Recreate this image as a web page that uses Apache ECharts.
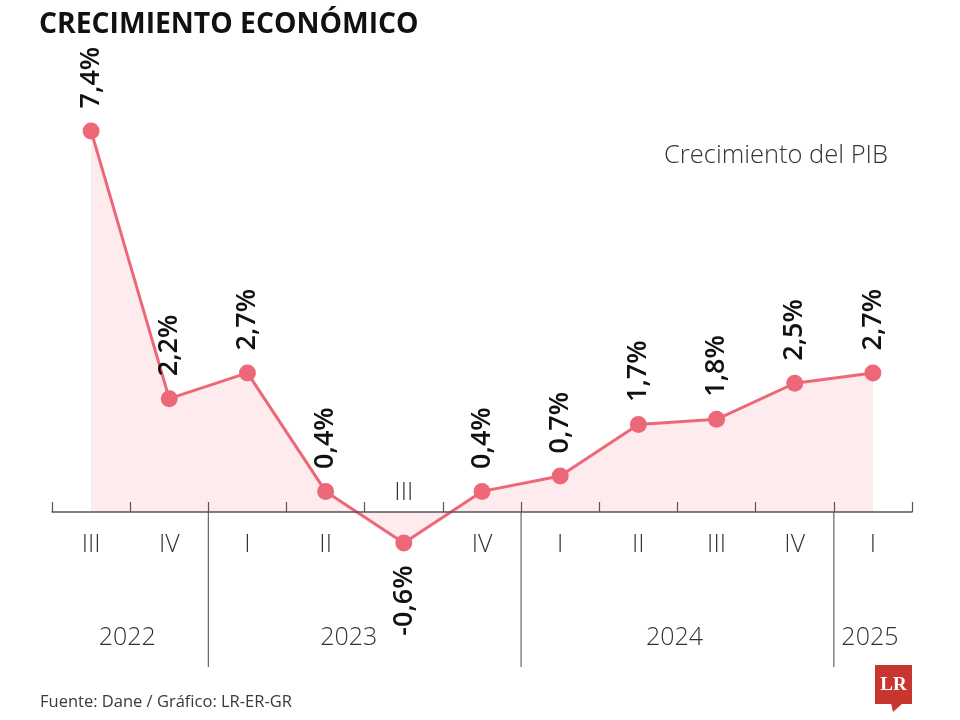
<!DOCTYPE html>
<html>
<head>
<meta charset="utf-8">
<script src="https://cdn.jsdelivr.net/npm/echarts@6/dist/echarts.min.js"></script>
<style>
html,body{margin:0;padding:0;background:#fff;}
#chart{width:960px;height:720px;}
</style>
</head>
<body>
<div id="chart"></div>
<script>
// ---- data ----
var quarters = ['III','IV','I','II','III','IV','I','II','III','IV','I'];
var growth = [7.4, 2.2, 2.7, 0.4, -0.6, 0.4, 0.7, 1.7, 1.8, 2.5, 2.7];
var years = ['2022','2023','2024','2025'];
var quartersPerYear = [2, 4, 4, 1];

// ---- derived ----
var yearData = [];
var start = 0;
for (var k = 0; k < years.length; k++) {
  yearData.push([start, quartersPerYear[k], k]);
  start += quartersPerYear[k];
}
var fontMain = "'Open Sans', 'Noto Sans', sans-serif";
var pink = '#ec6878';

function fmt(v) { return String(v).replace('.', ',') + '%'; }

var lineData = growth.map(function (v) {
  var neg = v < 0;
  return {
    value: v,
    label: {
      position: neg ? 'bottom' : 'top',
      align: neg ? 'right' : 'left',
      verticalAlign: 'middle'
    }
  };
});

var chart = echarts.init(document.getElementById('chart'), null, {renderer: 'canvas'});
chart.setOption({
  animation: false,
  backgroundColor: '#ffffff',
  grid: {left: 52, right: 48, top: 100, bottom: 156.5},
  xAxis: {
    type: 'category',
    data: quarters,
    boundaryGap: true,
    z: 10,
    axisLine: {onZero: true, lineStyle: {color: '#555', width: 1.5}},
    axisTick: {show: true, inside: true, length: 10, lineStyle: {color: '#555', width: 1.2}},
    axisLabel: {show: false},
    splitLine: {show: false}
  },
  yAxis: {
    type: 'value', min: -1, max: 8, show: false,
    splitLine: {show: false}
  },
  graphic: [
    {type: 'text', left: 39, top: 11, style: {text: 'CRECIMIENTO ECONÓMICO', font: "bold 28.3px 'Open Sans', sans-serif", fill: '#111'}},
    {type: 'text', right: 72, top: 143, style: {text: 'Crecimiento del PIB', font: "300 25.5px 'Open Sans', sans-serif", fill: '#333'}},
    {type: 'text', left: 40, top: 694, style: {text: 'Fuente: Dane / Gráfico: LR-ER-GR', font: "16.5px 'Open Sans', sans-serif", fill: '#3a3a3a'}},
    {type: 'group', children: [
      {type: 'rect', shape: {x: 875, y: 665, width: 37, height: 39}, style: {fill: '#c9362f'}},
      {type: 'polygon', shape: {points: [[891, 703], [903, 703], [893, 712]]}, style: {fill: '#c9362f'}},
      {type: 'text', x: 893.5, y: 685, style: {text: 'LR', font: "bold 19px 'Liberation Serif', 'DejaVu Serif', serif", fill: '#fff', align: 'center', verticalAlign: 'middle'}}
    ]}
  ],
  series: [
    {
      type: 'line',
      data: lineData,
      symbol: 'circle',
      symbolSize: 17,
      itemStyle: {color: pink},
      lineStyle: {color: pink, width: 3},
      areaStyle: {color: '#fdebed', opacity: 1},
      label: {
        show: true,
        rotate: 90,
        distance: 14,
        formatter: function (p) { return fmt(p.value); },
        fontFamily: fontMain,
        fontWeight: 600,
        fontSize: 27,
        color: '#111'
      },
      z: 3
    },
    {
      type: 'custom',
      clip: false,
      silent: true,
      data: growth.map(function (v, i) { return [i, v]; }),
      renderItem: function (params, api) {
        var i = api.value(0);
        var v = api.value(1);
        var p = api.coord([i, 0]);
        var y = v < 0 ? p[1] - 19 : p[1] + 33;
        return {
          type: 'text',
          x: p[0], y: y,
          style: {text: quarters[i], font: "300 25px 'Open Sans', sans-serif", fill: '#333', align: 'center', verticalAlign: 'middle'}
        };
      },
      z: 2
    },
    {
      type: 'custom',
      clip: false,
      silent: true,
      data: yearData,
      renderItem: function (params, api) {
        var s = api.value(0);
        var n = api.value(1);
        var idx = api.value(2);
        var bw = api.size([1, 0])[0];
        var p0 = api.coord([s, 0]);
        var left = p0[0] - bw / 2;
        var yZero = p0[1];
        var children = [];
        var xc = left + n * bw / 2 - 3;
        if (idx === 1) xc -= 13;
        children.push({
          type: 'text', x: xc, y: yZero + 126,
          style: {text: years[idx], font: "300 25px 'Open Sans', sans-serif", fill: '#333', align: 'center', verticalAlign: 'middle'}
        });
        if (s > 0) {
          var top = (idx === years.length - 1) ? api.coord([s, 0.97])[1] : yZero - 10;
          children.push({
            type: 'line',
            shape: {x1: left, y1: top, x2: left, y2: yZero + 155},
            style: {stroke: '#666', lineWidth: 1.2}
          });
        }
        return {type: 'group', children: children};
      },
      z: 2
    }
  ]
});
</script>
</body>
</html>
